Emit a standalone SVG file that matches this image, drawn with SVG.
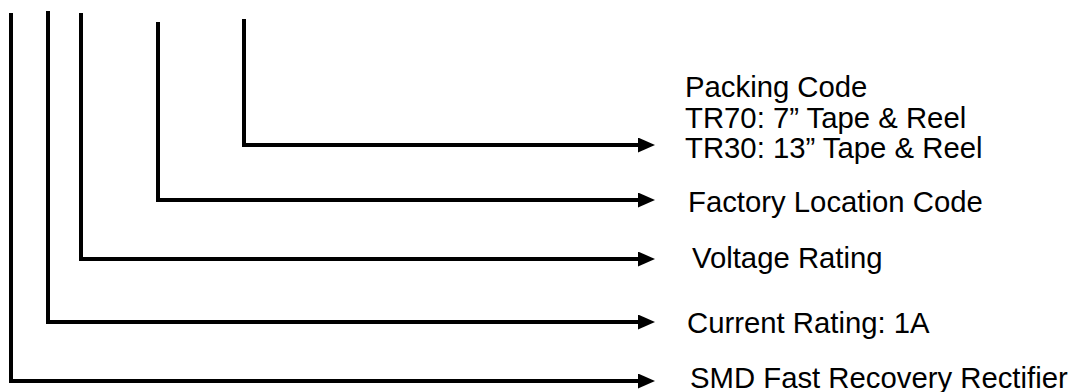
<svg xmlns="http://www.w3.org/2000/svg" width="1074" height="392" viewBox="0 0 1074 392">
<style>
.c{fill:none;stroke:#000;stroke-width:4;stroke-linejoin:miter;stroke-linecap:butt}
.t{font-family:"Liberation Sans",Arial,sans-serif;font-size:29.3px;fill:#000}
</style>
<defs>
<marker id="ah" markerUnits="userSpaceOnUse" markerWidth="18" markerHeight="16" refX="2" refY="7.5" orient="auto" viewBox="0 0 18 16">
<polygon points="0,0 17,7.5 0,15" fill="#000"/>
</marker>
</defs>
<rect width="1074" height="392" fill="#fff"/>
<g id="connectors">
<path class="c" d="M11 13V381H640" marker-end="url(#ah)"/>
<path class="c" d="M48 11V322H640" marker-end="url(#ah)"/>
<path class="c" d="M81 13V259H640" marker-end="url(#ah)"/>
<path class="c" d="M158 22V200H640" marker-end="url(#ah)"/>
<path class="c" d="M244 19V145H640" marker-end="url(#ah)"/>
</g>
<g id="packing">
<text class="t" x="685" y="97">Packing Code</text>
<text class="t" x="685" y="128">TR70: 7” Tape &amp; Reel</text>
<text class="t" x="685" y="158">TR30: 13” Tape &amp; Reel</text>
</g>
<g id="factory"><text class="t" x="688" y="212">Factory Location Code</text></g>
<g id="voltage"><text class="t" x="692" y="268">Voltage Rating</text></g>
<g id="current"><text class="t" x="687" y="333">Current Rating: 1A</text></g>
<g id="smd"><text class="t" x="690" y="388">SMD Fast Recovery Rectifier</text></g>
</svg>
